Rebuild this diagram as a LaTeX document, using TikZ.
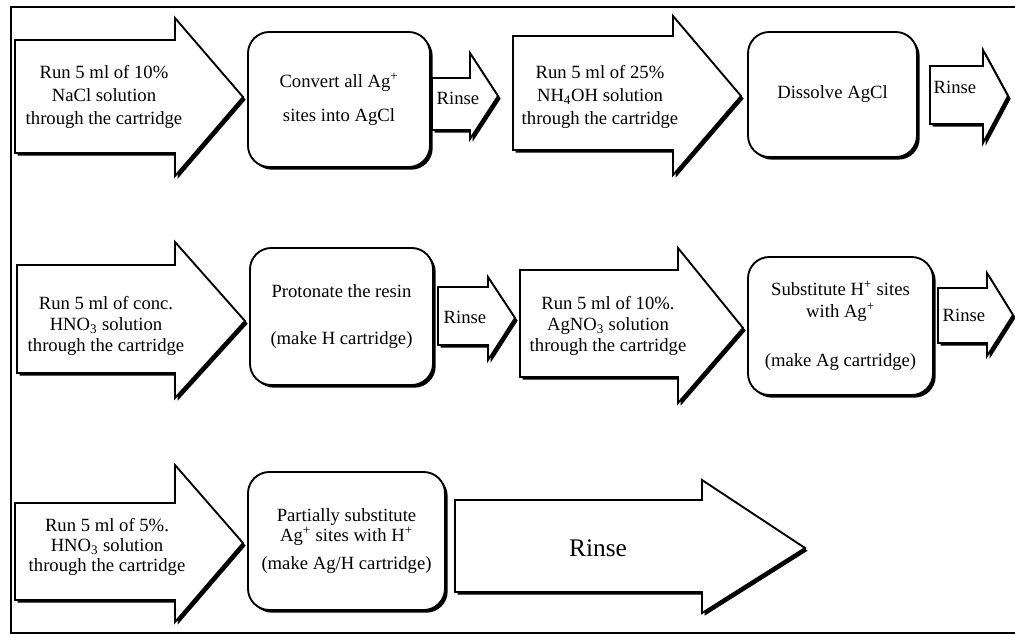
\documentclass[tikz,border=0pt]{standalone}
\usepackage{fontspec}
\setmainfont{Liberation Serif}
\usetikzlibrary{shadows}

\begin{document}
\begin{tikzpicture}[x=0.75pt,y=-0.75pt,font=\fontsize{14}{17}\selectfont,
		flowarrow/.style={draw,line width=1.4pt,fill=white,line join=miter,
			drop shadow={fill=black,opacity=1,shadow xshift=2pt,shadow yshift=-2pt}},
		stepbox/.style={draw,line width=1.4pt,fill=white,rounded corners=16pt,align=center,inner sep=0pt,
			drop shadow={fill=black,opacity=1,shadow xshift=2pt,shadow yshift=-2pt}},
		steptext/.style={align=center,inner sep=0pt}]
		\useasboundingbox (0,0) rectangle (1015,635);
		
		\draw[line width=0.8pt] (1015,7) -- (11,7) -- (11,633) -- (1015,633);
		
		% first row
		\draw[flowarrow] (15,40) -- (175,40) -- (175,18) -- (243,97) -- (175,176) -- (175,153) -- (15,153) -- cycle;
		\node[steptext] (nacl) at (104,97) {Run 5 ml of 10\%\\NaCl solution\\through the cartridge};
		\node[stepbox,minimum width=136.5pt,minimum height=101.25pt] (convert) at (339,99.5)
			{Convert all Ag\textsuperscript{+}\\[8.5pt]sites into AgCl};
		\draw[flowarrow] (432,78) -- (470,78) -- (470,53) -- (498,96) -- (470,139) -- (470,130) -- (432,130) -- cycle;
		\node[steptext] (rinseA) at (458,98) {Rinse};
		\draw[flowarrow] (513,36) -- (673,36) -- (673,16) -- (741,96) -- (673,175) -- (673,150) -- (513,150) -- cycle;
		\node[steptext] (nhoh) at (600,97) {Run 5 ml of 25\%\\NH\textsubscript{4}OH solution\\through the cartridge};
		\node[stepbox,minimum width=126.75pt,minimum height=93.75pt] (dissolve) at (832.5,94.5) {Dissolve AgCl};
		\draw[flowarrow] (930,66) -- (983,66) -- (983,50) -- (1008,96) -- (983,143) -- (983,124) -- (930,124) -- cycle;
		\node[steptext] (rinseB) at (955,87) {Rinse};
		
		% second row
		\draw[flowarrow] (17,265) -- (175,265) -- (175,242) -- (245,321) -- (175,398) -- (175,373) -- (17,373) -- cycle;
		\node[steptext] (conchno) at (106,326) {Run 5 ml of conc.\\[-1pt]HNO\textsubscript{3} solution\\[-1pt]through the cartridge};
		\node[stepbox,minimum width=137.25pt,minimum height=102.75pt] (protonate) at (341.5,316.5)
			{Protonate the resin\\[18pt](make H cartridge)};
		\draw[flowarrow] (438,287) -- (488,287) -- (488,277) -- (515,318) -- (488,360) -- (488,345) -- (438,345) -- cycle;
		\node[steptext] (rinseC) at (465,317) {Rinse};
		\draw[flowarrow] (520,270) -- (678,270) -- (678,248) -- (743,328) -- (678,403) -- (678,377) -- (520,377) -- cycle;
		\node[steptext] (agno) at (608,326) {Run 5 ml of 10\%.\\[-1pt]AgNO\textsubscript{3} solution\\[-1pt]through the cartridge};
		\node[stepbox,minimum width=138.75pt,minimum height=103.5pt] (substitute) at (840.5,326)
			{Substitute H\textsuperscript{+} sites\\[-1pt]with Ag\textsuperscript{+}\\[20pt](make Ag cartridge)};
		\draw[flowarrow] (938,288) -- (987,288) -- (987,273) -- (1013,315) -- (987,356) -- (987,343) -- (938,343) -- cycle;
		\node[steptext] (rinseD) at (964,315) {Rinse};
		
		% third row
		\draw[flowarrow] (15,503) -- (175,503) -- (175,465) -- (243,543) -- (175,622) -- (175,600) -- (15,600) -- cycle;
		\node[steptext] (dilhno) at (107,547) {Run 5 ml of 5\%.\\[-2pt]HNO\textsubscript{3} solution\\[-2pt]through the cartridge};
		\node[stepbox,minimum width=147.75pt,minimum height=103.5pt] (partial) at (346.5,541)
			{Partially substitute\\[-1.5pt]Ag\textsuperscript{+} sites with H\textsuperscript{+}\\[4pt](make Ag/H cartridge)};
		\draw[flowarrow] (455,500) -- (702,500) -- (702,480) -- (805,548) -- (702,613) -- (702,592) -- (455,592) -- cycle;
		\node[steptext,font=\fontsize{19}{22}\selectfont] (rinseE) at (598,548) {Rinse};
\end{tikzpicture}
\end{document}
